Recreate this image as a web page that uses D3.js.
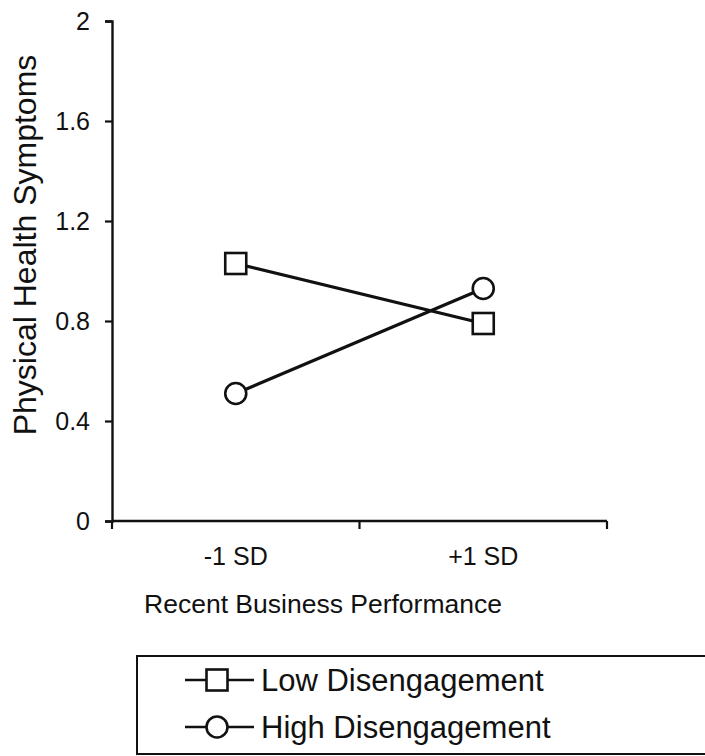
<!DOCTYPE html>
<html>
<head>
<meta charset="utf-8">
<script src="https://cdn.jsdelivr.net/npm/d3@7"></script>
<style>
  html, body { margin: 0; padding: 0; background: #fff; }
  svg { display: block; font-family: "Liberation Sans", Arial, sans-serif; }
</style>
</head>
<body>
<svg id="chart" width="705" height="756"></svg>
<script>
// Categories on the x axis
const categories = ["-1 SD", "+1 SD"];
// Series names and their values at each category
const seriesNames = ["Low Disengagement", "High Disengagement"];
const lowValues = [1.03, 0.79];
const highValues = [0.51, 0.93];
// Y tick values
const yTicks = [0, 0.4, 0.8, 1.2, 1.6, 2];
const yTitle = "Physical Health Symptoms";
const xTitle = "Recent Business Performance";

const series = [
  { name: seriesNames[0], values: lowValues, shape: "square" },
  { name: seriesNames[1], values: highValues, shape: "circle" }
];

const svg = d3.select("#chart");
const ink = "#111";

const y = d3.scaleLinear().domain([0, 2]).range([521, 21]);
const x = d3.scaleBand().domain(categories).range([112, 607]).paddingInner(0).paddingOuter(0);
const cx = c => x(c) + x.bandwidth() / 2;

// Y axis
const yAxis = d3.axisLeft(y)
  .tickValues(yTicks)
  .tickSize(7)
  .tickPadding(15)
  .tickFormat(d => String(d));
const yg = svg.append("g").attr("transform", "translate(112,0)").call(yAxis);
yg.select(".domain").attr("stroke", ink).attr("stroke-width", 2.4);
yg.selectAll(".tick line").attr("stroke", ink).attr("stroke-width", 2.2);
yg.selectAll(".tick text").attr("fill", ink).attr("font-size", 25)
  .attr("font-family", "'Liberation Sans', Arial, sans-serif");

// X axis: baseline with ticks at category boundaries
const x0 = x.range()[0], x1 = x.range()[1];
svg.append("line").attr("x1", x0).attr("x2", x1).attr("y1", y(0)).attr("y2", y(0))
  .attr("stroke", ink).attr("stroke-width", 2.4);
const boundaries = categories.map(c => x(c)).concat([x1]);
svg.selectAll(".xtick").data(boundaries).join("line")
  .attr("class", "xtick")
  .attr("x1", d => d).attr("x2", d => d)
  .attr("y1", y(0)).attr("y2", y(0) + 8)
  .attr("stroke", ink).attr("stroke-width", 2.2);
svg.selectAll(".xlabel").data(categories).join("text")
  .attr("class", "xlabel")
  .attr("x", d => cx(d)).attr("y", 565)
  .attr("text-anchor", "middle")
  .attr("font-size", 25).attr("fill", ink)
  .text(d => d);

// Axis titles
svg.append("text")
  .attr("x", 323).attr("y", 613)
  .attr("text-anchor", "middle")
  .attr("font-size", 26.5).attr("fill", ink)
  .text(xTitle);
svg.append("text")
  .attr("transform", "translate(36,245) rotate(-90)")
  .attr("text-anchor", "middle")
  .attr("font-size", 32).attr("fill", ink)
  .text(yTitle);

// Series lines and markers
const line = d3.line().x((d, i) => cx(categories[i])).y(d => y(d));
function marker(sel, shape, size) {
  if (shape === "square") {
    sel.append("rect")
      .attr("x", -size / 2).attr("y", -size / 2)
      .attr("width", size).attr("height", size)
      .attr("fill", "#fff").attr("stroke", ink).attr("stroke-width", 2.6);
  } else {
    sel.append("circle").attr("r", size / 2)
      .attr("fill", "#fff").attr("stroke", ink).attr("stroke-width", 2.6);
  }
}
series.forEach(s => {
  svg.append("path").attr("d", line(s.values))
    .attr("fill", "none").attr("stroke", ink).attr("stroke-width", 3.2);
  s.values.forEach((v, i) => {
    const g = svg.append("g").attr("transform", `translate(${cx(categories[i])},${y(v)})`);
    marker(g, s.shape, 21);
  });
});

// Legend
svg.append("path")
  .attr("d", "M706,656 H137 V754 H706")
  .attr("fill", "none").attr("stroke", ink).attr("stroke-width", 2);
const legendRows = [680, 727];
series.forEach((s, i) => {
  const ly = legendRows[i];
  svg.append("line").attr("x1", 185).attr("x2", 254).attr("y1", ly).attr("y2", ly)
    .attr("stroke", ink).attr("stroke-width", 2.6);
  const g = svg.append("g").attr("transform", `translate(217,${ly})`);
  marker(g, s.shape, 21);
  svg.append("text").attr("x", 261).attr("y", ly + 11)
    .attr("font-size", 31).attr("fill", ink)
    .text(s.name);
});
</script>
</body>
</html>
